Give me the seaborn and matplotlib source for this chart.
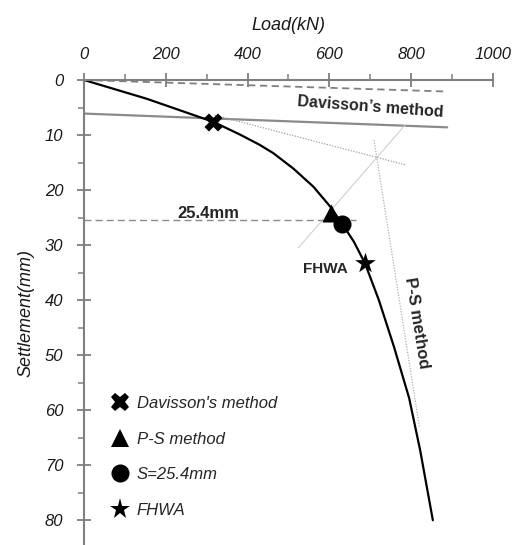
import matplotlib
matplotlib.use("Agg")
import matplotlib.pyplot as plt
from matplotlib.lines import Line2D
from matplotlib.ticker import FixedLocator
import seaborn as sns
import pandas as pd

# Load-settlement curve of the pile test
load_kn = [0, 153, 316, 381, 430, 463, 512, 561, 602, 630, 660, 687, 721, 758, 795, 822, 853]
settlement_mm = [0, 3.4, 7.6, 9.9, 11.8, 13.3, 16.1, 19.4, 23.0, 26.0, 29.4, 33.3, 40.0,
                 48.5, 57.8, 67.3, 80.0]

# Construction lines
elastic_load = [0, 888]
elastic_settle = [0, 2.1]
davisson_load = [0, 888]
davisson_settle = [6.1, 8.6]
tangent1_load = [320, 785]
tangent1_settle = [6.4, 15.4]
tangent2_load = [785, 524]
tangent2_settle = [8.2, 30.5]
ps_load = [709, 820]
ps_settle = [10.9, 63.0]
limit_load = [0, 665]
limit_settle = [25.4, 25.4]

# Ultimate load from each method
methods = ["Davisson's method", "P-S method", "S=25.4mm", "FHWA"]
method_load = [316, 603, 630, 687]
method_settle = [7.7, 24.2, 26.1, 33.3]
method_markers = ["X", "^", "o", "*"]
method_sizes = [13, 13, 13, 15.5]

x_ticks = [0, 200, 400, 600, 800, 1000]
y_ticks = [0, 10, 20, 30, 40, 50, 60, 70, 80]

sns.set_theme(style="white")
plt.rcParams["font.family"] = ["Liberation Sans", "DejaVu Sans"]

fig = plt.figure(figsize=(5.24, 5.45), dpi=100)
ax = fig.add_axes([0.1603, 0.0, 0.7805, 0.8532])

curve = pd.DataFrame({"load": load_kn, "settlement": settlement_mm})

ax.plot(elastic_load, elastic_settle, color="#808080", lw=1.3, ls=(0, (4, 2.5)))
ax.plot(davisson_load, davisson_settle, color="#8a8a8a", lw=1.6)
ax.plot(tangent1_load, tangent1_settle, color="#a0a0a0", lw=0.9, ls=(0, (1, 1.2)))
ax.plot(tangent2_load, tangent2_settle, color="#cfcfcf", lw=0.8)
ax.plot(ps_load, ps_settle, color="#b0b0b0", lw=0.9, ls=(0, (1, 1.2)))
ax.plot(limit_load, limit_settle, color="#8a8a8a", lw=1.0, ls=(0, (5, 3)))

sns.lineplot(data=curve, x="load", y="settlement", sort=False, color="black",
             lw=1.6, ax=ax, estimator=None)

handles = []
for name, xl, ys, mk, ms in zip(methods, method_load, method_settle,
                                method_markers, method_sizes):
    pt = pd.DataFrame({"load": [xl], "settlement": [ys]})
    sns.scatterplot(data=pt, x="load", y="settlement", marker=mk, s=ms ** 2,
                    color="black", linewidth=0, ax=ax, zorder=5, legend=False)
    handles.append(Line2D([], [], ls="none", marker=mk, markersize=ms,
                          color="black", markeredgewidth=0))

ax.set_xlim(0, 1000)
ax.set_ylim(84.5, 0)

ax.xaxis.tick_top()
ax.xaxis.set_label_position("top")
ax.set_xticks(x_ticks)
ax.set_xticklabels([str(v) for v in x_ticks], fontstyle="italic")
ax.set_yticks(y_ticks)
ax.set_yticklabels([str(v) for v in y_ticks], fontstyle="italic")
ax.xaxis.set_minor_locator(FixedLocator([100, 300, 500, 700, 900]))
ax.yaxis.set_minor_locator(FixedLocator([5, 15, 25, 35, 45, 55, 65, 75]))

spine_col = "#7f7f7f"
for side in ("right", "bottom"):
    ax.spines[side].set_visible(False)
for side in ("top", "left"):
    ax.spines[side].set_color(spine_col)
    ax.spines[side].set_linewidth(1.5)

ax.tick_params(axis="both", which="major", direction="inout", length=9.5,
               width=1.3, color=spine_col, labelsize=12, labelcolor="#1a1a1a")
ax.tick_params(axis="y", which="major", pad=10, left=True)
ax.tick_params(axis="x", which="major", pad=8, top=True, bottom=False)
ax.tick_params(axis="both", which="minor", direction="out", length=4,
               width=1.1, color=spine_col)
ax.tick_params(axis="x", which="minor", top=True, bottom=False)
ax.tick_params(axis="y", which="minor", left=True)

ax.set_xlabel("Load(kN)", fontsize=13, fontstyle="italic", color="#1a1a1a")
ax.set_ylabel("Settlement(mm)", fontsize=13, fontstyle="italic", color="#1a1a1a")
ax.xaxis.set_label_coords(0.5, 1.1075)
ax.yaxis.set_label_coords(-0.122, 0.5)

ax.text(699, 5.75, "Davisson\u2019s method", fontsize=11.5, fontweight="bold",
        ha="center", va="baseline", rotation=-4.3, rotation_mode="anchor")
ax.text(303, 25.1, "25.4mm", fontsize=12, fontweight="bold",
        ha="center", va="baseline")
ax.text(589, 35.1, "FHWA", fontsize=11, fontweight="bold",
        ha="center", va="baseline")
ax.text(813, 44.1, "P-S method", fontsize=12, fontweight="bold",
        ha="center", va="center", rotation=-81, rotation_mode="anchor")

ax.legend(handles, methods, loc="upper left", bbox_to_anchor=(0.068, 0.32),
          frameon=False, borderpad=0, borderaxespad=0, handlelength=1.0,
          handletextpad=0.5, labelspacing=1.23,
          prop={"size": 12, "style": "italic"})

fig.savefig("out.png", dpi=100)
